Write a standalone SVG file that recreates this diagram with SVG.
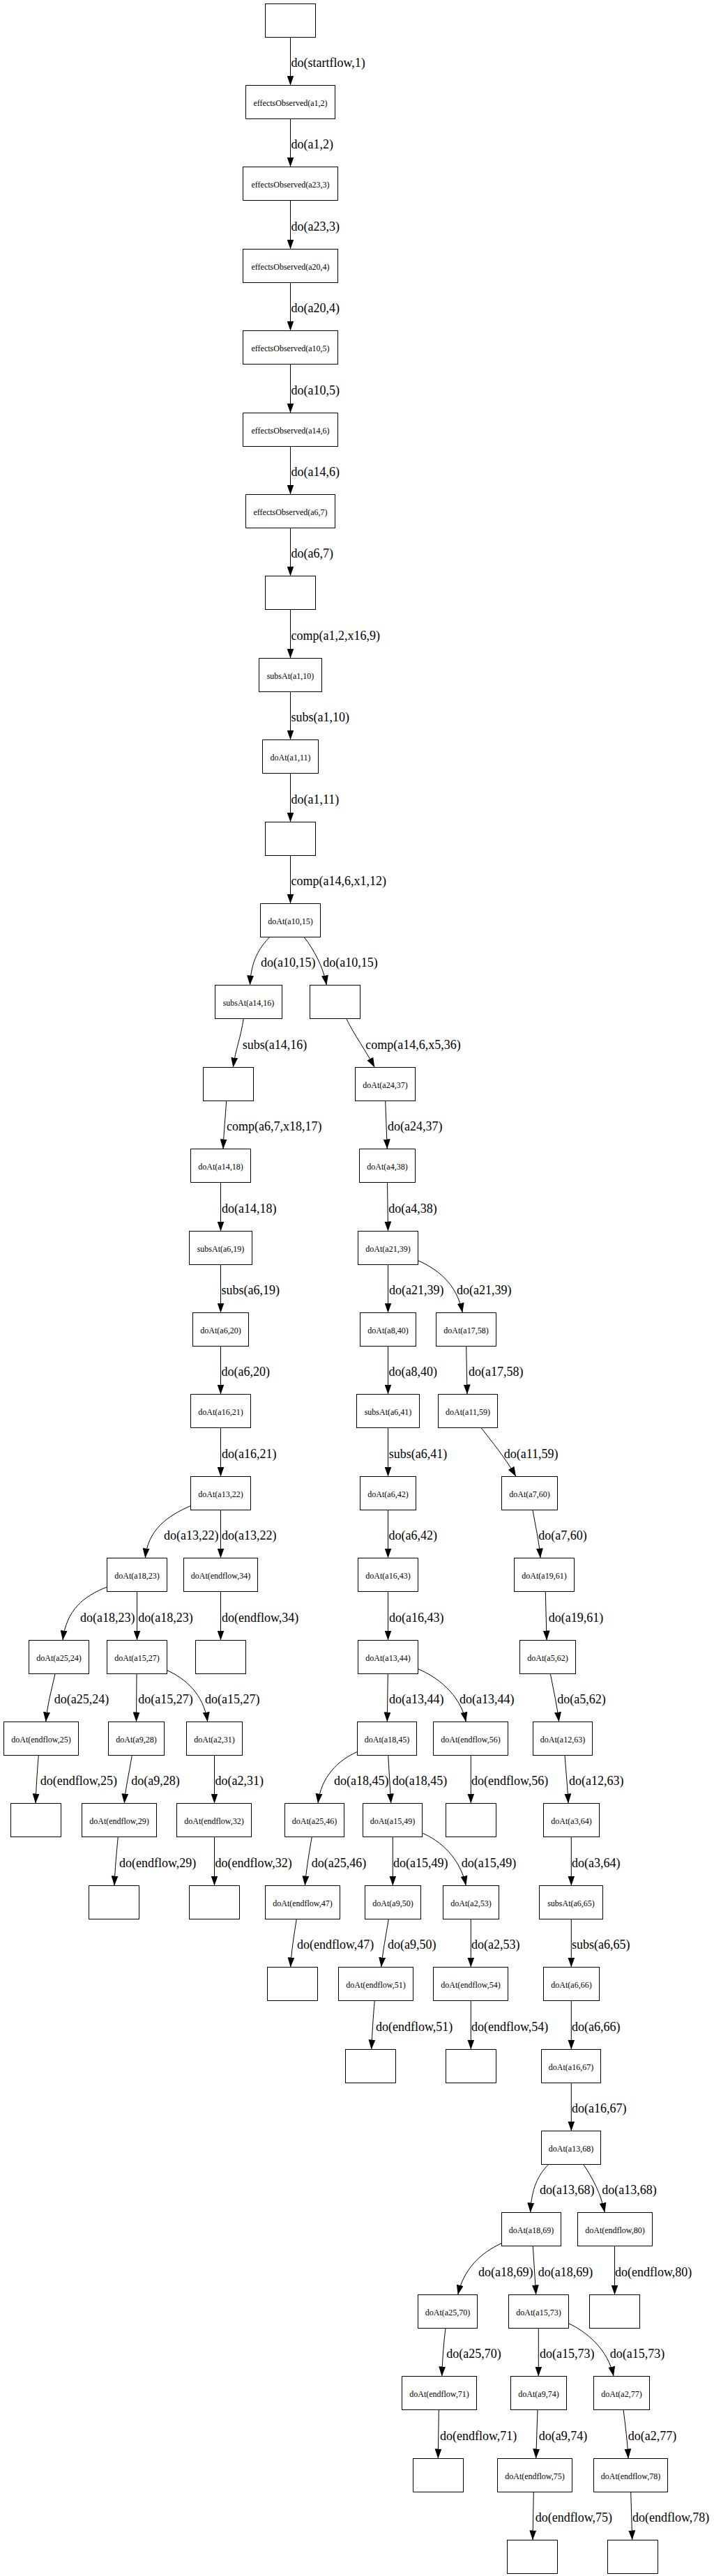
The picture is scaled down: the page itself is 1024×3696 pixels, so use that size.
<svg xmlns="http://www.w3.org/2000/svg" width="1024" height="3696" viewBox="0 0 1024 3696">
<style>
rect{fill:#fff;stroke:#000;stroke-width:1}
.nl{font-family:"Liberation Serif","Times New Roman",serif;font-size:12px;text-anchor:middle;fill:#000}
.el{font-family:"Liberation Serif","Times New Roman",serif;font-size:18px;fill:#000}
#edges path{fill:none;stroke:#000;stroke-width:1;marker-end:url(#ah)}
</style>
<defs>
<marker id="ah" markerUnits="userSpaceOnUse" markerWidth="14" markerHeight="10" viewBox="0 0 13.3 9.4" refX="13.3" refY="4.7" orient="auto"><path d="M0,0 L13.3,4.7 L0,9.4 z" fill="#000"/></marker>
</defs>
<rect x="0" y="0" width="1024" height="3696" style="stroke:none"/>
<g id="edges">
<path d="M416.5,53.5 L416.5,122.5"/><path d="M416.5,170.5 L416.5,239.5"/><path d="M416.5,287.5 L416.5,357.5"/><path d="M416.5,405.5 L416.5,474.5"/><path d="M416.5,522.5 L416.5,592.5"/><path d="M416.5,640.5 L416.5,709.5"/><path d="M416.5,757.5 L416.5,826.5"/><path d="M416.5,874.5 L416.5,944.5"/><path d="M416.5,992.5 L416.5,1061.5"/><path d="M416.5,1109.5 L416.5,1179.5"/><path d="M416.5,1227.5 L416.5,1296.5"/>
<path d="M386.7,1344.5 C372,1360 360,1378 358.5,1413.5"/>
<path d="M436,1344.5 C450,1362 464,1388 468.3,1413.5"/>
<path d="M349.3,1461.5 C345,1490 338,1505 334.3,1531.5"/>
<path d="M324.7,1579.5 C323,1605 321,1625 320,1648.5"/>
<path d="M316.5,1696.5 L316.5,1766.5"/>
<path d="M316.5,1814.5 L316.5,1883.5"/>
<path d="M316.5,1931.5 L316.5,2000.5"/>
<path d="M316.5,2048.5 L316.5,2118.5"/>
<path d="M273.5,2160.5 C240,2175 212,2195 208.3,2235.5"/>
<path d="M316.5,2166.5 L316.5,2235.5"/>
<path d="M153.5,2277 C120,2290 95,2310 90,2353.5"/>
<path d="M196.5,2283.5 L196.5,2353.5"/>
<path d="M316.5,2283.5 L316.5,2353.5"/>
<path d="M79,2401.5 C74,2425 68,2445 65.7,2470.5"/>
<path d="M196,2401.5 L195.5,2470.5"/>
<path d="M239.5,2396.5 C265,2408 292,2430 297.7,2470.5"/>
<path d="M55.3,2518.5 C53,2545 52,2565 51,2587.5"/>
<path d="M189.3,2518.5 C185,2545 180,2565 178.3,2587.5"/>
<path d="M307.5,2518.5 L307.5,2587.5"/>
<path d="M169.3,2635.5 C167,2660 165,2680 164,2705.5"/>
<path d="M307.5,2635.5 L307.5,2705.5"/>
<path d="M496.7,1461.5 C508,1485 525,1508 537.3,1531.5"/>
<path d="M552.7,1579.5 L555.3,1648.5"/>
<path d="M555.5,1696.5 L556.5,1766.5"/>
<path d="M556.5,1814.5 L556.5,1883.5"/>
<path d="M599.3,1808.5 C625,1820 655,1840 663.3,1883.5"/>
<path d="M556.5,1931.5 L556.5,2000.5"/>
<path d="M668.7,1931.5 L670,2000.5"/>
<path d="M556.5,2048.5 L556.5,2118.5"/>
<path d="M690,2048.5 C705,2068 725,2092 740,2118.5"/>
<path d="M556.5,2166.5 L556.5,2235.5"/>
<path d="M764,2166.5 C768,2190 773,2210 775,2235.5"/>
<path d="M556.5,2283.5 L556.5,2353.5"/>
<path d="M782.3,2283.5 L784,2353.5"/>
<path d="M556.3,2401.5 L555.3,2470.5"/>
<path d="M599.3,2394.5 C625,2405 660,2430 668.3,2470.5"/>
<path d="M789.3,2401.5 C794,2425 799,2448 801.7,2470.5"/>
<path d="M512.5,2513.5 C485,2525 460,2550 456,2587.5"/>
<path d="M556.7,2518.5 L560.7,2587.5"/>
<path d="M675.3,2518.5 L675.3,2587.5"/>
<path d="M810,2518.5 C812,2545 814,2565 815,2587.5"/>
<path d="M447.3,2635.5 C443,2660 439,2685 437.3,2705.5"/>
<path d="M563.3,2635.5 L563.3,2705.5"/>
<path d="M605.3,2630 C630,2640 660,2665 668.3,2705.5"/>
<path d="M819.3,2635.5 L819.3,2705.5"/>
<path d="M425.3,2753.5 C421,2780 418,2800 416.7,2822.5"/>
<path d="M557.3,2753.5 C553,2780 549,2800 546.7,2822.5"/>
<path d="M675.3,2753.5 L675.3,2822.5"/>
<path d="M819.3,2753.5 L819.3,2822.5"/>
<path d="M537.3,2870.5 C535,2895 534,2915 532.7,2940.5"/>
<path d="M675.3,2870.5 L675.3,2940.5"/>
<path d="M819.3,2870.5 L819.3,2940.5"/>
<path d="M819.3,2988.5 L819.3,3057.5"/>
<path d="M786.7,3105.5 C772,3120 762,3140 760.7,3174.5"/>
<path d="M836.7,3105.5 C850,3125 862,3148 867.3,3174.5"/>
<path d="M719.5,3218.5 C690,3232 665,3255 656.7,3292.5"/>
<path d="M764.3,3222.5 L768.7,3292.5"/>
<path d="M881.5,3222.5 L881.5,3292.5"/>
<path d="M639,3340.5 C636,3365 634.5,3385 633.7,3409.5"/>
<path d="M772.3,3340.5 L772.3,3409.5"/>
<path d="M815.3,3333.5 C840,3345 872,3370 880,3409.5"/>
<path d="M629.3,3457.5 L628.3,3527.5"/>
<path d="M771,3457.5 L768.7,3527.5"/>
<path d="M894,3457.5 C897,3480 900,3505 901,3527.5"/>
<path d="M765.3,3575.5 L764,3644.5"/>
<path d="M904.7,3575.5 L906.7,3644.5"/>
<g class="el">
<text x="417.5" y="95.5">do(startflow,1)</text>
<text x="417.5" y="212.5">do(a1,2)</text>
<text x="417.5" y="330.5">do(a23,3)</text>
<text x="417.5" y="447.5">do(a20,4)</text>
<text x="417.5" y="565.5">do(a10,5)</text>
<text x="417.5" y="682.5">do(a14,6)</text>
<text x="417.5" y="799.5">do(a6,7)</text>
<text x="417.5" y="917.5">comp(a1,2,x16,9)</text>
<text x="417.5" y="1034.5">subs(a1,10)</text>
<text x="417.5" y="1152.5">do(a1,11)</text>
<text x="417.5" y="1269.5">comp(a14,6,x1,12)</text>
<text x="374" y="1386.5">do(a10,15)</text>
<text x="463.3" y="1386.5">do(a10,15)</text>
<text x="347.7" y="1504.5">subs(a14,16)</text>
<text x="325" y="1621.5">comp(a6,7,x18,17)</text>
<text x="318" y="1739.5">do(a14,18)</text>
<text x="317.5" y="1856.5">subs(a6,19)</text>
<text x="317.5" y="1973.5">do(a6,20)</text>
<text x="318" y="2091.5">do(a16,21)</text>
<text x="235" y="2208.5">do(a13,22)</text>
<text x="318" y="2208.5">do(a13,22)</text>
<text x="115" y="2326.5">do(a18,23)</text>
<text x="198.3" y="2326.5">do(a18,23)</text>
<text x="318" y="2326.5">do(endflow,34)</text>
<text x="77.7" y="2443.5">do(a25,24)</text>
<text x="198.3" y="2443.5">do(a15,27)</text>
<text x="294" y="2443.5">do(a15,27)</text>
<text x="57.7" y="2560.5">do(endflow,25)</text>
<text x="188.3" y="2560.5">do(a9,28)</text>
<text x="308.5" y="2560.5">do(a2,31)</text>
<text x="171" y="2678.5">do(endflow,29)</text>
<text x="308.5" y="2678.5">do(endflow,32)</text>
<text x="524.3" y="1504.5">comp(a14,6,x5,36)</text>
<text x="556" y="1621.5">do(a24,37)</text>
<text x="557.3" y="1739.5">do(a4,38)</text>
<text x="558" y="1856.5">do(a21,39)</text>
<text x="655" y="1856.5">do(a21,39)</text>
<text x="557.5" y="1973.5">do(a8,40)</text>
<text x="672" y="1973.5">do(a17,58)</text>
<text x="557.7" y="2091.5">subs(a6,41)</text>
<text x="722.7" y="2091.5">do(a11,59)</text>
<text x="557.5" y="2208.5">do(a6,42)</text>
<text x="772.3" y="2208.5">do(a7,60)</text>
<text x="558" y="2326.5">do(a16,43)</text>
<text x="786.7" y="2326.5">do(a19,61)</text>
<text x="558" y="2443.5">do(a13,44)</text>
<text x="659" y="2443.5">do(a13,44)</text>
<text x="799.3" y="2443.5">do(a5,62)</text>
<text x="479" y="2560.5">do(a18,45)</text>
<text x="562.7" y="2560.5">do(a18,45)</text>
<text x="676" y="2560.5">do(endflow,56)</text>
<text x="816" y="2560.5">do(a12,63)</text>
<text x="446.7" y="2678.5">do(a25,46)</text>
<text x="564" y="2678.5">do(a15,49)</text>
<text x="661.7" y="2678.5">do(a15,49)</text>
<text x="820" y="2678.5">do(a3,64)</text>
<text x="426" y="2795.5">do(endflow,47)</text>
<text x="556" y="2795.5">do(a9,50)</text>
<text x="676" y="2795.5">do(a2,53)</text>
<text x="820" y="2795.5">subs(a6,65)</text>
<text x="539" y="2913.5">do(endflow,51)</text>
<text x="676" y="2913.5">do(endflow,54)</text>
<text x="820" y="2913.5">do(a6,66)</text>
<text x="820" y="3030.5">do(a16,67)</text>
<text x="774" y="3147.5">do(a13,68)</text>
<text x="863.3" y="3147.5">do(a13,68)</text>
<text x="686" y="3265.5">do(a18,69)</text>
<text x="771.7" y="3265.5">do(a18,69)</text>
<text x="882" y="3265.5">do(endflow,80)</text>
<text x="640.3" y="3382.5">do(a25,70)</text>
<text x="774" y="3382.5">do(a15,73)</text>
<text x="874.7" y="3382.5">do(a15,73)</text>
<text x="631" y="3500.5">do(endflow,71)</text>
<text x="772.7" y="3500.5">do(a9,74)</text>
<text x="900.7" y="3500.5">do(a2,77)</text>
<text x="767.7" y="3617.5">do(endflow,75)</text>
<text x="907" y="3617.5">do(endflow,78)</text>
</g>
</g>
<g id="n0"><rect x="380.5" y="5.5" width="72" height="48"/></g>
<g id="n1"><rect x="352.5" y="122.5" width="128" height="48"/><text class="nl" x="416.5" y="152">effectsObserved(a1,2)</text></g>
<g id="n2"><rect x="348.5" y="239.5" width="136" height="48"/><text class="nl" x="416.5" y="269">effectsObserved(a23,3)</text></g>
<g id="n3"><rect x="348.5" y="357.5" width="136" height="48"/><text class="nl" x="416.5" y="387">effectsObserved(a20,4)</text></g>
<g id="n4"><rect x="348.5" y="474.5" width="136" height="48"/><text class="nl" x="416.5" y="504">effectsObserved(a10,5)</text></g>
<g id="n5"><rect x="348.5" y="592.5" width="136" height="48"/><text class="nl" x="416.5" y="622">effectsObserved(a14,6)</text></g>
<g id="n6"><rect x="352.5" y="709.5" width="128" height="48"/><text class="nl" x="416.5" y="739">effectsObserved(a6,7)</text></g>
<g id="n7"><rect x="380.5" y="826.5" width="72" height="48"/></g>
<g id="n8"><rect x="371.5" y="944.5" width="90" height="48"/><text class="nl" x="416.5" y="974">subsAt(a1,10)</text></g>
<g id="n9"><rect x="376.5" y="1061.5" width="80" height="48"/><text class="nl" x="416.5" y="1091">doAt(a1,11)</text></g>
<g id="n10"><rect x="380.5" y="1179.5" width="72" height="48"/></g>
<g id="n11"><rect x="373.5" y="1296.5" width="86" height="48"/><text class="nl" x="416.5" y="1326">doAt(a10,15)</text></g>
<g id="n12L"><rect x="308.5" y="1413.5" width="96" height="48"/><text class="nl" x="356.5" y="1443">subsAt(a14,16)</text></g>
<g id="n13L"><rect x="291.5" y="1531.5" width="72" height="48"/></g>
<g id="n14L"><rect x="273.5" y="1648.5" width="86" height="48"/><text class="nl" x="316.5" y="1678">doAt(a14,18)</text></g>
<g id="n15L"><rect x="271.5" y="1766.5" width="90" height="48"/><text class="nl" x="316.5" y="1796">subsAt(a6,19)</text></g>
<g id="n16L"><rect x="276.5" y="1883.5" width="80" height="48"/><text class="nl" x="316.5" y="1913">doAt(a6,20)</text></g>
<g id="n17L"><rect x="273.5" y="2000.5" width="86" height="48"/><text class="nl" x="316.5" y="2030">doAt(a16,21)</text></g>
<g id="n18L"><rect x="273.5" y="2118.5" width="86" height="48"/><text class="nl" x="316.5" y="2148">doAt(a13,22)</text></g>
<g id="n19a"><rect x="153.5" y="2235.5" width="86" height="48"/><text class="nl" x="196.5" y="2265">doAt(a18,23)</text></g>
<g id="n19b"><rect x="263.5" y="2235.5" width="106" height="48"/><text class="nl" x="316.5" y="2265">doAt(endflow,34)</text></g>
<g id="n20a"><rect x="41.5" y="2353.5" width="86" height="48"/><text class="nl" x="84.5" y="2383">doAt(a25,24)</text></g>
<g id="n20b"><rect x="153.5" y="2353.5" width="86" height="48"/><text class="nl" x="196.5" y="2383">doAt(a15,27)</text></g>
<g id="n20c"><rect x="280.5" y="2353.5" width="72" height="48"/></g>
<g id="n21a"><rect x="5.5" y="2470.5" width="107" height="48"/><text class="nl" x="59" y="2500">doAt(endflow,25)</text></g>
<g id="n21b"><rect x="155.5" y="2470.5" width="80" height="48"/><text class="nl" x="195.5" y="2500">doAt(a9,28)</text></g>
<g id="n21c"><rect x="267.5" y="2470.5" width="80" height="48"/><text class="nl" x="307.5" y="2500">doAt(a2,31)</text></g>
<g id="n22a"><rect x="15.5" y="2587.5" width="72" height="48"/></g>
<g id="n22b"><rect x="117.5" y="2587.5" width="107" height="48"/><text class="nl" x="171" y="2617">doAt(endflow,29)</text></g>
<g id="n22c"><rect x="253.5" y="2587.5" width="107" height="48"/><text class="nl" x="307" y="2617">doAt(endflow,32)</text></g>
<g id="n23a"><rect x="127.5" y="2705.5" width="72" height="48"/></g>
<g id="n23b"><rect x="271.5" y="2705.5" width="72" height="48"/></g>
<g id="n12R"><rect x="444.5" y="1413.5" width="72" height="48"/></g>
<g id="n13R"><rect x="509.5" y="1531.5" width="86" height="48"/><text class="nl" x="552.5" y="1561">doAt(a24,37)</text></g>
<g id="n14R"><rect x="515.5" y="1648.5" width="80" height="48"/><text class="nl" x="555.5" y="1678">doAt(a4,38)</text></g>
<g id="n15R"><rect x="513.5" y="1766.5" width="86" height="48"/><text class="nl" x="556.5" y="1796">doAt(a21,39)</text></g>
<g id="n16a"><rect x="516.5" y="1883.5" width="80" height="48"/><text class="nl" x="556.5" y="1913">doAt(a8,40)</text></g>
<g id="n16b"><rect x="625.5" y="1883.5" width="86" height="48"/><text class="nl" x="668.5" y="1913">doAt(a17,58)</text></g>
<g id="n17a"><rect x="511.5" y="2000.5" width="90" height="48"/><text class="nl" x="556.5" y="2030">subsAt(a6,41)</text></g>
<g id="n17b"><rect x="628.5" y="2000.5" width="85" height="48"/><text class="nl" x="671" y="2030">doAt(a11,59)</text></g>
<g id="n18a"><rect x="516.5" y="2118.5" width="80" height="48"/><text class="nl" x="556.5" y="2148">doAt(a6,42)</text></g>
<g id="n18b"><rect x="719.5" y="2118.5" width="80" height="48"/><text class="nl" x="759.5" y="2148">doAt(a7,60)</text></g>
<g id="n19c"><rect x="513.5" y="2235.5" width="86" height="48"/><text class="nl" x="556.5" y="2265">doAt(a16,43)</text></g>
<g id="n19d"><rect x="737.5" y="2235.5" width="86" height="48"/><text class="nl" x="780.5" y="2265">doAt(a19,61)</text></g>
<g id="n20d"><rect x="513.5" y="2353.5" width="86" height="48"/><text class="nl" x="556.5" y="2383">doAt(a13,44)</text></g>
<g id="n20e"><rect x="745.5" y="2353.5" width="80" height="48"/><text class="nl" x="785.5" y="2383">doAt(a5,62)</text></g>
<g id="n21d"><rect x="512.5" y="2470.5" width="85" height="48"/><text class="nl" x="555" y="2500">doAt(a18,45)</text></g>
<g id="n21e"><rect x="621.5" y="2470.5" width="107" height="48"/><text class="nl" x="675" y="2500">doAt(endflow,56)</text></g>
<g id="n21f"><rect x="764.5" y="2470.5" width="85" height="48"/><text class="nl" x="807" y="2500">doAt(a12,63)</text></g>
<g id="n22d"><rect x="408.5" y="2587.5" width="85" height="48"/><text class="nl" x="451" y="2617">doAt(a25,46)</text></g>
<g id="n22e"><rect x="520.5" y="2587.5" width="85" height="48"/><text class="nl" x="563" y="2617">doAt(a15,49)</text></g>
<g id="n22f"><rect x="639.5" y="2587.5" width="72" height="48"/></g>
<g id="n22g"><rect x="779.5" y="2587.5" width="80" height="48"/><text class="nl" x="819.5" y="2617">doAt(a3,64)</text></g>
<g id="n23c"><rect x="380.5" y="2705.5" width="107" height="48"/><text class="nl" x="434" y="2735">doAt(endflow,47)</text></g>
<g id="n23d"><rect x="523.5" y="2705.5" width="80" height="48"/><text class="nl" x="563.5" y="2735">doAt(a9,50)</text></g>
<g id="n23e"><rect x="635.5" y="2705.5" width="80" height="48"/><text class="nl" x="675.5" y="2735">doAt(a2,53)</text></g>
<g id="n23f"><rect x="773.5" y="2705.5" width="91" height="48"/><text class="nl" x="819" y="2735">subsAt(a6,65)</text></g>
<g id="n24a"><rect x="383.5" y="2822.5" width="72" height="48"/></g>
<g id="n24b"><rect x="485.5" y="2822.5" width="107" height="48"/><text class="nl" x="539" y="2852">doAt(endflow,51)</text></g>
<g id="n24c"><rect x="621.5" y="2822.5" width="107" height="48"/><text class="nl" x="675" y="2852">doAt(endflow,54)</text></g>
<g id="n24d"><rect x="779.5" y="2822.5" width="80" height="48"/><text class="nl" x="819.5" y="2852">doAt(a6,66)</text></g>
<g id="n25a"><rect x="495.5" y="2940.5" width="72" height="48"/></g>
<g id="n25b"><rect x="639.5" y="2940.5" width="72" height="48"/></g>
<g id="n25c"><rect x="776.5" y="2940.5" width="85" height="48"/><text class="nl" x="819" y="2970">doAt(a16,67)</text></g>
<g id="n26"><rect x="776.5" y="3057.5" width="85" height="48"/><text class="nl" x="819" y="3087">doAt(a13,68)</text></g>
<g id="n27a"><rect x="719.5" y="3174.5" width="85" height="48"/><text class="nl" x="762" y="3204">doAt(a18,69)</text></g>
<g id="n27b"><rect x="828.5" y="3174.5" width="107" height="48"/><text class="nl" x="882" y="3204">doAt(endflow,80)</text></g>
<g id="n28a"><rect x="599.5" y="3292.5" width="85" height="48"/><text class="nl" x="642" y="3322">doAt(a25,70)</text></g>
<g id="n28b"><rect x="729.5" y="3292.5" width="86" height="48"/><text class="nl" x="772.5" y="3322">doAt(a15,73)</text></g>
<g id="n28c"><rect x="845.5" y="3292.5" width="72" height="48"/></g>
<g id="n29a"><rect x="576.5" y="3409.5" width="107" height="48"/><text class="nl" x="630" y="3439">doAt(endflow,71)</text></g>
<g id="n29b"><rect x="732.5" y="3409.5" width="80" height="48"/><text class="nl" x="772.5" y="3439">doAt(a9,74)</text></g>
<g id="n29c"><rect x="851.5" y="3409.5" width="80" height="48"/><text class="nl" x="891.5" y="3439">doAt(a2,77)</text></g>
<g id="n30a"><rect x="592.5" y="3527.5" width="72" height="48"/></g>
<g id="n30b"><rect x="713.5" y="3527.5" width="107" height="48"/><text class="nl" x="767" y="3557">doAt(endflow,75)</text></g>
<g id="n30c"><rect x="851.5" y="3527.5" width="106" height="48"/><text class="nl" x="904.5" y="3557">doAt(endflow,78)</text></g>
<g id="n31a"><rect x="727.5" y="3644.5" width="72" height="48"/></g>
<g id="n31b"><rect x="871.5" y="3644.5" width="72" height="48"/></g>
</svg>
